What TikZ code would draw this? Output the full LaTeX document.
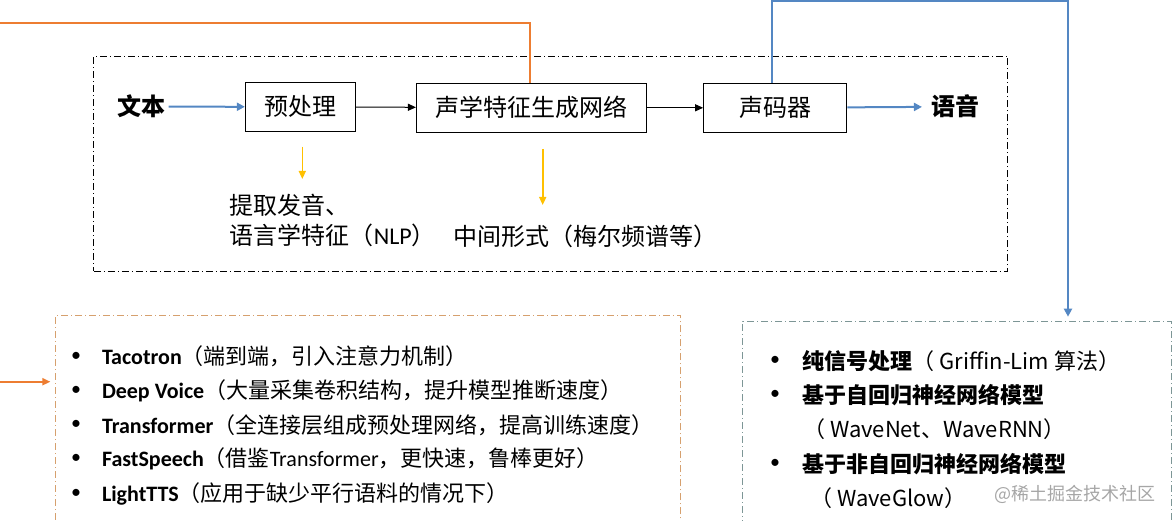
\documentclass[tikz,border=0pt]{standalone}
\usepackage{fontspec}
\setmainfont{Carlito}
\newfontfamily\cjk{Noto Sans CJK SC}
\usetikzlibrary{positioning, arrows.meta}
\definecolor{lineorange}{RGB}{237,125,49}
\definecolor{lineblue}{RGB}{84,135,195}
\definecolor{arrowgold}{RGB}{255,192,0}
\definecolor{frameorange}{RGB}{214,160,110}
\definecolor{framegrey}{RGB}{125,150,150}

\begin{document}
\begin{tikzpicture}[x=1pt, y=-1pt]
  \tikzstyle{stage} = [rectangle, draw=black, line width=1.1pt, inner sep=0pt,
    minimum height=49pt, font=\cjk\fontsize{24}{28}\selectfont]
  \tikzstyle{frame} = [rectangle, line width=0.9pt, inner sep=0pt, anchor=north west,
    dash pattern=on 7pt off 3pt on 1pt off 3pt]
  \tikzstyle{item} = [anchor=west, inner sep=0pt, font=\fontsize{22}{26}\selectfont]
  \tikzstyle{dot} = [inner sep=0pt, font=\fontsize{20}{24}\selectfont]
  \tikzstyle{flowarrow} = [line width=1pt, -{Triangle[width=7pt,length=8pt]}]
  \tikzstyle{bluearrow} = [lineblue, line width=2pt, -{Triangle[width=8pt,length=8pt]}]
  \tikzstyle{goldarrow} = [arrowgold, line width=1.6pt, -{Triangle[width=7pt,length=8pt]}]
  \tikzstyle{orangeline} = [lineorange, line width=2pt]

  \useasboundingbox (0,0) rectangle (1173,521);
  \clip (0,0) rectangle (1173,521);

  % Marcos
  \node[frame, draw=black, minimum width=914pt, minimum height=215pt] (flow) at (93.4,55.7) {};
  \node[frame, draw=frameorange, minimum width=625pt, minimum height=260pt] (acbox) at (55.4,315) {};
  \node[frame, draw=framegrey, minimum width=428.5pt, minimum height=260pt] (vbox) at (742.3,320.7) {};

  % Cadena principal
  \node[font=\cjk\bfseries\fontsize{24}{28}\selectfont] (txt) at (141,106.7) {文本};
  \node[stage, minimum width=110pt] (pre) at (300.4,106.8) {预处理};
  \node[stage, minimum width=230pt] (ac) at (531.5,107.8) {声学特征生成网络};
  \node[stage, minimum width=143pt] (voc) at (775.2,107.8) {声码器};
  \node[font=\cjk\bfseries\fontsize{24}{28}\selectfont] (wav) at (955.5,106.7) {语音};

  \draw[bluearrow] (txt) -- (pre);
  \draw[flowarrow] (pre) -- (ac);
  \draw[flowarrow] (ac) -- (voc);
  \draw[bluearrow, shorten >=6pt] (voc) -- (wav);

  % Salidas intermedias
  \node[anchor=west, inner sep=0pt, align=left, font=\cjk\fontsize{24}{30}\selectfont] (ling) at (229.6,220.8)
    {提取发音、\\语言学特征（\rmfamily NLP\cjk ）};
  \node[anchor=west, inner sep=0pt, font=\cjk\fontsize{24}{28}\selectfont] (mel) at (453.5,236) {中间形式（梅尔频谱等）};
  \coordinate (g1a) at (302.3,146.7);
  \coordinate (g1b) at (302.3,179);
  \coordinate (g2a) at (542.7,149);
  \coordinate (g2b) at (542.7,205);
  \draw[goldarrow] (g1a) -- (g1b);
  \draw[goldarrow] (g2a) -- (g2b);

  % Conexiones a las listas
  \coordinate (ot) at (0,23.3);
  \coordinate (oa) at (0,381.7);
  \coordinate (bt) at (1068,1.5);
  \draw[orangeline] ([xshift=-1.5pt]ac.north) |- (ot);
  \draw[orangeline, -{Triangle[width=7pt,length=8pt]}, shorten >=5pt] (oa) -- (oa -| acbox.west);
  \draw[bluearrow, shorten >=4pt] ([xshift=-3pt]voc.north) |- (bt) -- (bt |- vbox.north);

  % Modelos acusticos
  \foreach \name/\desc [count=\i] in {
      Tacotron/{（端到端，引入注意力机制）},
      {Deep Voice}/{（大量采集卷积结构，提升模型推断速度）},
      Transformer/{（全连接层组成预处理网络，提高训练速度）},
      FastSpeech/{（借鉴\rmfamily Transformer\cjk ，更快速，鲁棒更好）},
      LightTTS/{（应用于缺少平行语料的情况下）}} {
    \node[dot] (ab\i) at (76,322.5+\i*34.2) {\textbullet};
    \node[item] (at\i) at (101.8,322.5+\i*34.2) {\textbf{\name}{\cjk\desc}};
  }

  % Vocoders
  \foreach \y [count=\i] in {361,395,464.3}
    \node[dot] (vb\i) at (775,\y) {\textbullet};
  \node[item, font=\cjk\fontsize{22}{26}\selectfont] (vt1) at (802.7,361) {\textbf{纯信号处理}（ Griffin-Lim 算法）};
  \node[item, font=\cjk\fontsize{22}{26}\selectfont] (vt2) at (802.7,395) {\textbf{基于自回归神经网络模型}};
  \node[item, font=\cjk\fontsize{22}{26}\selectfont] (vt2b) at (803,429.3) {（ WaveNet、WaveRNN）};
  \node[item, font=\cjk\fontsize{22}{26}\selectfont] (vt3) at (802.7,464.3) {\textbf{基于非自回归神经网络模型}};
  \node[item, font=\cjk\fontsize{22}{26}\selectfont] (vt3b) at (810,497.7) {（ WaveGlow）};

  % Marca de agua
  \node[text=black!35, font=\cjk\fontsize{18}{22}\selectfont] (mark) at (1075,494) {@稀土掘金技术社区};
\end{tikzpicture}
\end{document}
